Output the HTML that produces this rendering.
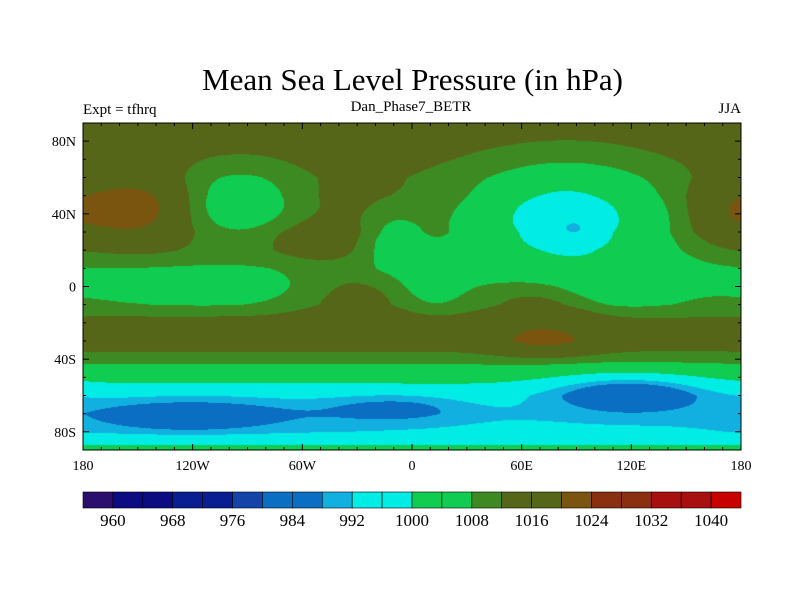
<!DOCTYPE html>
<html><head><meta charset="utf-8"><style>
body{margin:0;background:#fff;width:800px;height:600px;overflow:hidden;position:relative;font-family:"Liberation Serif",serif}
.t{position:absolute;white-space:nowrap;color:#000}
</style></head><body>
<div class="t" style="left:0;width:825px;text-align:center;top:62px;font-size:31px">Mean Sea Level Pressure (in hPa)</div>
<div class="t" style="left:0;width:822px;text-align:center;top:99px;font-size:15px">Dan_Phase7_BETR</div>
<div class="t" style="left:83px;top:102px;font-size:15px">Expt = tfhrq</div>
<div class="t" style="right:59px;top:101px;font-size:15px">JJA</div>
<canvas id="map" width="658" height="327" style="position:absolute;left:83px;top:123px"></canvas>
<svg id="ov" width="800" height="600" style="position:absolute;left:0;top:0"></svg>
<script>
// ---- data ----
const levels=[960,964,968,972,976,980,984,988,992,996,1000,1004,1008,1012,1016,1020,1024,1028,1032,1036,1040];
const levelColors=["#2a0f6e","#0c0c82","#0c0c82","#0a1e94","#0a1e94","#1444a8","#0a6ec2","#0a6ec2","#12b0e0","#00ece4","#00ece4","#10cc50","#10cc50","#3e8a22","#556618","#556618","#7a5510","#8a3010","#8a3010","#a81010","#a81010","#c80000"];
const labelLevels=[960,968,976,984,992,1000,1008,1016,1024,1032,1040];
const zonalLats=[90,80,70,60,50,40,30,20,10,0,-10,-20,-30,-40,-50,-60,-70,-80,-90];
const zonalP=[1014,1014,1014,1014,1015,1015,1015,1013,1010,1010,1010,1014,1015,1010,1003,995,992,993,1003];
// anomalies: lon, lat, amplitude, sigmaLon, sigmaLat
const anomLon=[-153,-95,-55,80,85,89,73,118,-125,-10,-30,70,170,-10,10,-110,110,-100];
const anomLat=[43,45,25,30,40,31,-30,-58,-71,-67,-5,-10,40,25,0,0,0,-70];
const anomAmp=[10,-11,3,-8,-12,-5,6,-15,-8,-7,5,6,5,-6,-4,-5,-4,-3];
const anomSx=[22,25,20,65,33,8,20,30,35,25,25,25,15,12,12,45,20,60];
const anomSy=[12,15,8,25,18,5,6,7,6,5,12,12,12,12,8,8,8,8];
const xTicks=[-180,-120,-60,0,60,120,180];
const xTickLabels=["180","120W","60W","0","60E","120E","180"];
const yTicks=[80,40,0,-40,-80];
const yTickLabels=["80N","40N","0","40S","80S"];
// ---- axes ----
const L=83,R=741,T=123,B=450;
const xs=lon=>L+(lon+180)/360*(R-L);
const ys=lat=>T+(90-lat)/180*(B-T);
function field(lon,lat){
  let i=0;while(i<zonalLats.length-2&&lat<zonalLats[i+1])i++;
  const f=(zonalLats[i]-lat)/(zonalLats[i]-zonalLats[i+1]);
  let v=zonalP[i]*(1-f)+zonalP[i+1]*f;
  for(let k=0;k<anomLon.length;k++){
    let d=lon-anomLon[k];d=((d+540)%360)-180;
    const e=lat-anomLat[k];
    v+=anomAmp[k]*Math.exp(-(d*d)/(2*anomSx[k]*anomSx[k])-(e*e)/(2*anomSy[k]*anomSy[k]));
  }
  return v;
}
function rgb(h){return [parseInt(h.substr(1,2),16),parseInt(h.substr(3,2),16),parseInt(h.substr(5,2),16)];}
const cols=levelColors.map(rgb);
const cv=document.getElementById('map'),ctx=cv.getContext('2d');
const W=cv.width,H=cv.height,img=ctx.createImageData(W,H);
for(let y=0;y<H;y++){const lat=90-(y+0.5)/H*180;
 for(let x=0;x<W;x++){const lon=-180+(x+0.5)/W*360;const v=field(lon,lat);
  let idx=0;while(idx<levels.length&&v>=levels[idx])idx++;
  const c=cols[idx],p=(y*W+x)*4;img.data[p]=c[0];img.data[p+1]=c[1];img.data[p+2]=c[2];img.data[p+3]=255;}}
ctx.putImageData(img,0,0);
const svg=document.getElementById('ov'),NS="http://www.w3.org/2000/svg";
function mk(tag,attrs,name,parent){const e=document.createElementNS(NS,tag);for(const k in attrs)e.setAttribute(k,attrs[k]);
 
 
 (parent||svg).appendChild(e);return e;}
mk('rect',{x:L,y:T,width:R-L,height:B-T,fill:'none',stroke:'#000','stroke-width':1},'map-frame');
for(let lon=-180;lon<=180;lon+=10){const major=lon%60===0;const len=major?6:3;
 mk('line',{x1:xs(lon),x2:xs(lon),y1:B,y2:B-len,stroke:'#000'},'x-tick');
 mk('line',{x1:xs(lon),x2:xs(lon),y1:T,y2:T+len,stroke:'#000'},'x-tick-top');}
for(let lat=-90;lat<=90;lat+=10){const major=lat%40===0;const len=major?6:3;
 mk('line',{x1:L,x2:L+len,y1:ys(lat),y2:ys(lat),stroke:'#000'},'y-tick');
 mk('line',{x1:R,x2:R-len,y1:ys(lat),y2:ys(lat),stroke:'#000'},'y-tick-right');}
xTicks.forEach((lon,i)=>{const t=mk('text',{x:xs(lon),y:470,'text-anchor':'middle','font-size':14,'font-family':'Liberation Serif, serif'},'x-tick-label');t.textContent=xTickLabels[i];});
yTicks.forEach((lat,i)=>{const t=mk('text',{x:76,y:ys(lat)+5,'text-anchor':'end','font-size':14,'font-family':'Liberation Serif, serif'},'y-tick-label');t.textContent=yTickLabels[i];});
// colorbar
const nb=levelColors.length,bw=(R-L)/nb,cy=492,ch=16;
levelColors.forEach((c,i)=>{mk('rect',{x:L+i*bw,y:cy,width:bw,height:ch,fill:c,stroke:'#000','stroke-width':0.6},'colorbar-box');});
labelLevels.forEach(v=>{const i=levels.indexOf(v)+1;const t=mk('text',{x:L+i*bw,y:cy+ch+18,'text-anchor':'middle','font-size':17,'font-family':'Liberation Serif, serif'},'colorbar-label');t.textContent=v;});
</script>
</body></html>
